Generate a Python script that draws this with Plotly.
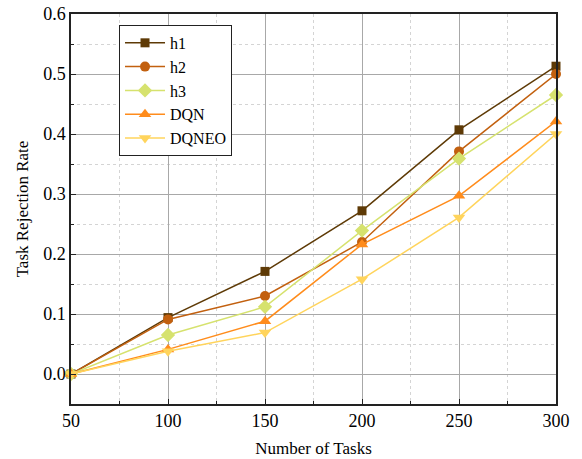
import plotly.graph_objects as go

tasks = [50, 100, 150, 200, 250, 300]
h1 = [0.0, 0.094, 0.171, 0.272, 0.407, 0.513]
h2 = [0.0, 0.091, 0.130, 0.220, 0.371, 0.500]
h3 = [0.0, 0.065, 0.112, 0.239, 0.359, 0.465]
dqn = [0.0, 0.041, 0.088, 0.216, 0.297, 0.421]
dqneo = [0.0, 0.038, 0.069, 0.158, 0.261, 0.400]

series = [
    ("h1", h1, "#5e3a06", "square", 9),
    ("h2", h2, "#c2600f", "circle", 10),
    ("h3", h3, "#d6e26e", "diamond", 11),
    ("DQN", dqn, "#ff8c1c", "triangle-up", 11),
    ("DQNEO", dqneo, "#ffd45c", "triangle-down", 11),
]

fig = go.Figure()
for name, ys, color, sym, sz in series:
    fig.add_trace(go.Scatter(
        x=tasks, y=ys, name=name, mode="lines+markers",
        line=dict(color=color, width=1.5),
        marker=dict(symbol=sym, size=sz, color=color, line=dict(width=0)),
        cliponaxis=False,
    ))

serif = "Liberation Serif, Times New Roman, serif"
font = dict(family=serif, size=17, color="black")

fig.update_layout(
    width=582, height=459,
    margin=dict(l=71, r=26, t=14, b=55),
    paper_bgcolor="white", plot_bgcolor="white",
    font=font,
    showlegend=True,
    legend=dict(
        x=0.099, y=0.972, xanchor="left", yanchor="top",
        bordercolor="#222", borderwidth=1, bgcolor="white",
        font=dict(family=serif, size=16),
        tracegroupgap=0, itemwidth=40,
    ),
    xaxis=dict(
        range=[50, 300], tickvals=tasks, ticks="inside", ticklen=5,
        tickcolor="#222", showline=True, linecolor="#222", linewidth=1.5, mirror=True,
        showgrid=True, gridcolor="#a8a8a8", gridwidth=1.2, zeroline=False,
        automargin=False, ticklabeloverflow="allow",
        title=dict(text="Number of Tasks", font=dict(size=17), standoff=12),
        tickfont=dict(size=18),
        minor=dict(dtick=25, tick0=50, showgrid=True, gridcolor="#d4d4d4", griddash="dot",
                   gridwidth=1, ticks="inside", ticklen=3, tickcolor="#222"),
    ),
    yaxis=dict(
        range=[-0.05, 0.6], tickvals=[0, 0.1, 0.2, 0.3, 0.4, 0.5, 0.6],
        ticktext=["0.0", "0.1", "0.2", "0.3", "0.4", "0.5", "0.6"],
        ticks="inside", ticklen=5, tickcolor="#222",
        showline=True, linecolor="#222", linewidth=1.5, mirror=True,
        showgrid=True, gridcolor="#a8a8a8", gridwidth=1.2, zeroline=False,
        automargin=False, ticklabeloverflow="allow",
        title=dict(text="Task Rejection Rate", font=dict(size=17), standoff=10),
        tickfont=dict(size=18),
        minor=dict(dtick=0.05, tick0=0, showgrid=True, gridcolor="#d4d4d4", griddash="dot",
                   gridwidth=1, ticks="inside", ticklen=3, tickcolor="#222"),
    ),
)

# remove the default 8px body margin of the page so the figure sits at the window origin
fig.write_html("out.html", config={"displayModeBar": False},
               post_script="document.body.style.margin='0';")
